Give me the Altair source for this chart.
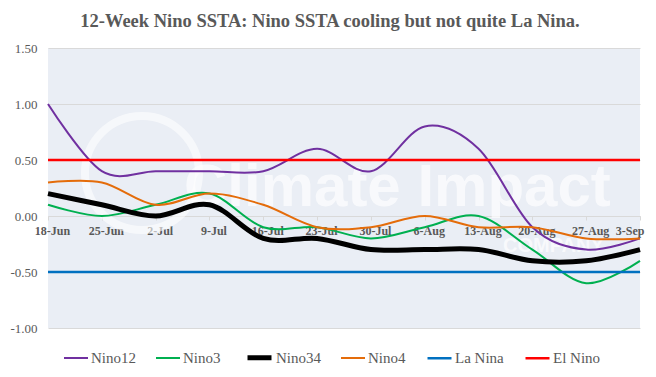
import altair as alt
import pandas as pd

# ---- data ----
weeks = ["18-Jun", "25-Jun", "2-Jul", "9-Jul", "16-Jul", "23-Jul",
         "30-Jul", "6-Aug", "13-Aug", "20-Aug", "27-Aug", "3-Sep"]
nino12 = [1.00, 0.40, 0.40, 0.40, 0.40, 0.60, 0.40, 0.80, 0.60, -0.10, -0.30, -0.20]
nino3 = [0.10, 0.00, 0.10, 0.20, -0.10, -0.10, -0.20, -0.10, 0.00, -0.30, -0.60, -0.40]
nino34 = [0.20, 0.10, 0.00, 0.10, -0.20, -0.20, -0.30, -0.30, -0.30, -0.40, -0.40, -0.30]
nino4 = [0.30, 0.30, 0.10, 0.20, 0.10, -0.10, -0.10, 0.00, -0.10, -0.10, -0.20, -0.20]
la_nina = [-0.50, -0.50, -0.50, -0.50, -0.50, -0.50, -0.50, -0.50, -0.50, -0.50, -0.50, -0.50]
el_nino = [0.50, 0.50, 0.50, 0.50, 0.50, 0.50, 0.50, 0.50, 0.50, 0.50, 0.50, 0.50]

series_names = ["Nino12", "Nino3", "Nino34", "Nino4", "La Nina", "El Nino"]
series_values = [nino12, nino3, nino34, nino4, la_nina, el_nino]
series_colors = ["#7030A0", "#00B050", "#000000", "#E46C0A", "#0070C0", "#FF0000"]
series_widths = [2, 2, 5, 2, 2.5, 2.5]
y_ticks = [-1.0, -0.5, 0.0, 0.5, 1.0, 1.5]

title_text = "12-Week Nino SSTA: Nino SSTA cooling but  not quite La Nina."
watermark_text = ["Climate Impact"]
watermark_sub = ["COMPANY"]

rows = []
for name, vals in zip(series_names, series_values):
    for w, v in zip(weeks, vals):
        rows.append({"week": w, "value": v, "series": name})
df = pd.DataFrame(rows)

TXT = "#595959"
SERIF = "'Liberation Serif', 'Times New Roman', 'DejaVu Serif', serif"

legend = alt.Legend(
    title=None, orient="none", legendX=15, legendY=295, direction="horizontal",
    symbolType="stroke", symbolSize=576, labelFont=SERIF, labelFontSize=15,
    labelFontWeight="normal",
    labelColor=TXT, labelOffset=2, columnPadding=16,
)

lines = alt.Chart(df).mark_line(interpolate="cardinal").encode(
    x=alt.X("week:O", sort=weeks, title=None,
            scale=alt.Scale(type="point", padding=0),
            axis=alt.Axis(orient="bottom", offset=-112, labelAngle=0,
                          labelFont=SERIF, labelFontSize=12, labelFontWeight="bold",
                          labelColor=TXT, domainColor="#D9D9D9", tickColor="#D9D9D9",
                          tickSize=4, labelPadding=5, grid=False, labelOffset=4,
                          labelAlign=alt.condition("datum.label == '3-Sep'",
                                                   alt.value("right"), alt.value("center")))),
    y=alt.Y("value:Q", title=None,
            scale=alt.Scale(domain=[-1.0, 1.5], nice=False, zero=False),
            axis=alt.Axis(values=y_ticks, labelExpr="replace(format(datum.value, '.2f'), '\u2212', '-')",
                          labelFont=SERIF, labelFontSize=13, labelColor=TXT,
                          labelFontWeight="normal",
                          ticks=False, tickSize=0, domain=False, labelPadding=11,
                          gridColor="#D9D9D9", gridWidth=1)),
    color=alt.Color("series:N", sort=series_names,
                    scale=alt.Scale(domain=series_names, range=series_colors),
                    legend=legend),
    strokeWidth=alt.StrokeWidth("series:N", sort=series_names,
                                scale=alt.Scale(type="ordinal", domain=series_names,
                                                range=series_widths),
                                legend=legend),
    detail="series:N",
)

wm = alt.Chart(pd.DataFrame({"t": watermark_text})).mark_text(
    font="Liberation Sans", fontSize=60, fontWeight="bold", color="white", opacity=0.7,
    align="left", baseline="alphabetic").encode(
    text="t:N", x=alt.value(136), y=alt.value(158))

wm2 = alt.Chart(pd.DataFrame({"t": watermark_sub})).mark_text(
    font="Liberation Sans", fontSize=20, color="white", opacity=0.7,
    align="left", baseline="alphabetic", fontWeight="bold").encode(
    text="t:N", x=alt.value(455), y=alt.value(204))

ring = alt.Chart(pd.DataFrame({"t": watermark_text})).mark_point(
    shape="circle", size=13000, stroke="white", strokeWidth=8, opacity=0.6, filled=False).encode(
    x=alt.value(94), y=alt.value(125))

chart = alt.layer(ring, wm, wm2, lines).properties(
    width=592, height=280,
    padding={"left": 40, "top": 40, "right": 8, "bottom": 45},
    autosize=alt.AutoSizeParams(type="none"),
    title=alt.TitleParams(title_text, font=SERIF, fontSize=18.5, fontWeight="bold",
                          color=TXT, anchor="middle", frame="bounds", offset=12),
).configure(
    background="white",
    view=alt.ViewConfig(fill="#EAEEF5", stroke=None),
    axis=alt.AxisConfig(labelFont=SERIF),
    legend=alt.LegendConfig(labelFont=SERIF),
)

chart.save("out.html", embed_options={"renderer": "svg", "actions": False})
